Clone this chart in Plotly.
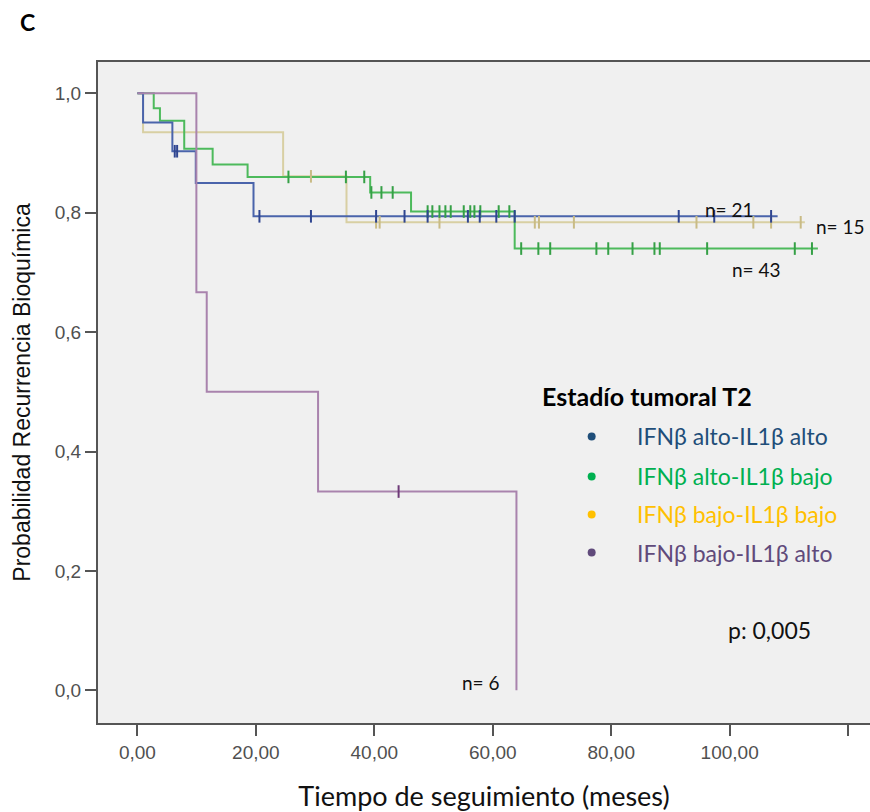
import plotly.graph_objects as go

# ---------------- data ----------------
groups = ["IFNβ alto-IL1β alto", "IFNβ alto-IL1β bajo", "IFNβ bajo-IL1β bajo", "IFNβ bajo-IL1β alto"]
n_labels = ["n= 21", "n= 43", "n= 15", "n= 6"]

# step curves: times at which the curve changes and the value after the change
aa_t = [0, 0.95, 5.9, 9.85, 19.6, 108.1]
aa_s = [1.0, 0.951, 0.903, 0.850, 0.794, 0.794]
aa_ct = [6.3, 6.7, 20.6, 29.3, 40.3, 45.1, 49.0, 55.8, 57.8, 60.6, 63.7, 91.4, 97.4, 107.0]
aa_cs = [0.903, 0.903, 0.794, 0.794, 0.794, 0.794, 0.794, 0.794, 0.794, 0.794, 0.794, 0.794, 0.794, 0.794]

ab_t = [0, 2.75, 3.8, 7.9, 12.7, 18.6, 39.3, 46.2, 63.7, 114.9]
ab_s = [1.0, 0.975, 0.954, 0.907, 0.881, 0.860, 0.834, 0.802, 0.740, 0.740]
ab_ct = [25.5, 35.2, 38.3, 39.5, 41.2, 43.1, 49.0, 49.8, 51.0, 52.0, 52.9, 55.1, 56.2, 56.9,
         57.9, 61.0, 62.8, 64.8, 67.7, 69.7, 77.5, 79.5, 83.6, 87.3, 88.2, 96.2, 111.0, 113.9]
ab_cs = [0.860, 0.860, 0.860, 0.834, 0.834, 0.834, 0.802, 0.802, 0.802, 0.802, 0.802, 0.802, 0.802, 0.802,
         0.802, 0.802, 0.802, 0.740, 0.740, 0.740, 0.740, 0.740, 0.740, 0.740, 0.740, 0.740, 0.740, 0.740]

bb_t = [0, 0.95, 24.6, 35.3, 112.7]
bb_s = [1.0, 0.935, 0.861, 0.784, 0.784]
bb_ct = [29.3, 40.3, 40.9, 51.0, 67.1, 67.8, 73.7, 94.4, 104.0, 107.0, 112.0]
bb_cs = [0.861, 0.784, 0.784, 0.784, 0.784, 0.784, 0.784, 0.784, 0.784, 0.784, 0.784]

ba_t = [0, 9.95, 11.7, 30.5, 64.0]
ba_s = [1.0, 0.667, 0.500, 0.333, 0.0]
ba_ct = [44.1]
ba_cs = [0.333]

p_text = "p: 0,005"
x_ticks = [0, 20, 40, 60, 80, 100, 120]
y_ticks = [0.0, 0.2, 0.4, 0.6, 0.8, 1.0]

# ---------------- styling ----------------
line_cols = ["#4a64ab", "#4dba5c", "#d8cfa3", "#a983ad"]
cens_cols = ["#2f4590", "#35a046", "#c9bb85", "#6e3a78"]
legend_cols = ["#1f4e79", "#00b050", "#ffc000", "#604a7b"]
FONT = "Lato"

curves = [(aa_t, aa_s, aa_ct, aa_cs), (ab_t, ab_s, ab_ct, ab_cs),
          (bb_t, bb_s, bb_ct, bb_cs), (ba_t, ba_s, ba_ct, ba_cs)]

fig = go.Figure()
draw_order = [2, 1, 0, 3]
for i in draw_order:
    t, s, ct, cs = curves[i]
    fig.add_trace(go.Scatter(x=t, y=s, mode="lines", line=dict(color=line_cols[i], width=2, shape="hv"),
                             name=groups[i], showlegend=False, hoverinfo="skip"))
for i in draw_order:
    t, s, ct, cs = curves[i]
    fig.add_trace(go.Scatter(x=ct, y=cs, mode="markers",
                             marker=dict(symbol="line-ns-open", size=9, color=cens_cols[i],
                                         line=dict(color=cens_cols[i], width=2)),
                             name=groups[i] + " (censurado)", showlegend=False))

# n labels
n_pos = [(95.5, 0.806), (100.0, 0.705), (114.2, 0.777), (54.4, 0.013)]
for lab, (x, y) in zip(n_labels, n_pos):
    fig.add_annotation(x=x, y=y, xref="x", yref="y", text=lab, showarrow=False,
                       xanchor="left", yanchor="middle", font=dict(family=FONT, size=19, color="#111"))

# in-plot legend
fig.add_annotation(x=67.96, y=0.4925, xref="x", yref="y", text="<b>Estadío tumoral T2</b>", showarrow=False,
                   xanchor="left", yanchor="middle", font=dict(family=FONT, size=25, color="#000"))
leg_y = [0.4254, 0.3583, 0.2946, 0.2309]
for i in range(4):
    fig.add_annotation(x=83.95, y=leg_y[i], xref="x", yref="y", text=groups[i], showarrow=False,
                       xanchor="left", yanchor="middle", font=dict(family=FONT, size=23, color=legend_cols[i]))
    fig.add_shape(type="circle", xref="x", yref="y", xsizemode="pixel", ysizemode="pixel",
                  xanchor=76.7, yanchor=leg_y[i], x0=-4, x1=4, y0=-4, y1=4,
                  fillcolor=legend_cols[i], line=dict(width=0))

fig.add_annotation(x=99.4, y=0.1018, xref="x", yref="y", text=p_text, showarrow=False,
                   xanchor="left", yanchor="middle", font=dict(family=FONT, size=23, color="#111"))

fig.add_annotation(x=-0.104, y=1.061, xref="paper", yref="paper", text="<b>C</b>", showarrow=False,
                   xanchor="left", yanchor="middle", font=dict(family=FONT, size=23, color="#000"))

axis_line = "#555555"
fig.update_xaxes(range=[-6.66, 123.7], tickvals=x_ticks, tickformat=".2f", ticks="outside", ticklen=11,
                 tickwidth=2, tickcolor=axis_line, showline=True, linecolor=axis_line, linewidth=2,
                 mirror=True, showgrid=False, zeroline=False,
                 tickfont=dict(family="Liberation Sans", size=19, color="#505050"),
                 title=dict(text="Tiempo de seguimiento (meses)", standoff=26,
                            font=dict(family=FONT, size=27, color="#111")))
fig.update_yaxes(range=[-0.0547, 1.0525], tickvals=y_ticks, tickformat=".1f", ticks="outside", ticklen=11,
                 tickwidth=2, tickcolor=axis_line, showline=True, linecolor=axis_line, linewidth=2,
                 mirror=False, showgrid=False, zeroline=False,
                 tickfont=dict(family="Liberation Sans", size=19, color="#505050"),
                 title=dict(text="Probabilidad Recurrencia Bioquímica", standoff=18,
                            font=dict(family="Liberation Sans", size=23, color="#111")))

fig.update_layout(width=870, height=812, margin=dict(l=98, r=0, t=62, b=89),
                  plot_bgcolor="#f0f0f0", paper_bgcolor="#ffffff", separators=",.",
                  showlegend=False)

fig.write_html("out.html", config={"displayModeBar": False},
               post_script="document.body.style.margin='0px';")
